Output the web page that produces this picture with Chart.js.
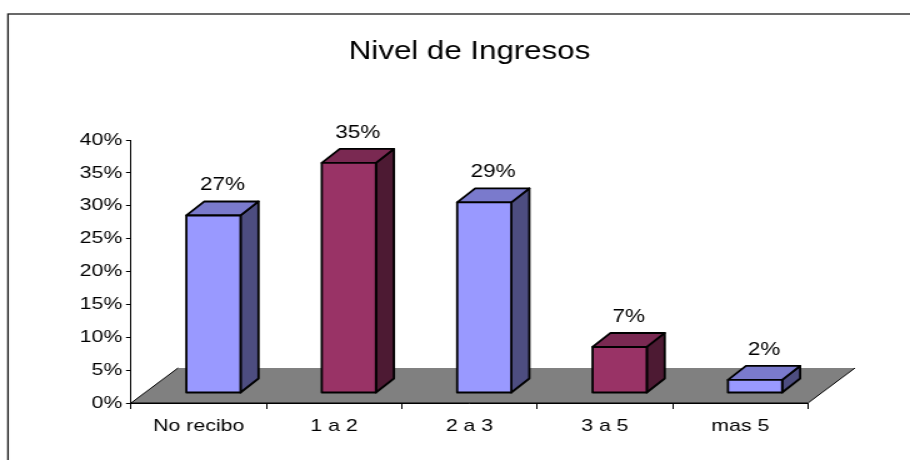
<!DOCTYPE html>
<html>
<head>
<meta charset="utf-8">
<title>Nivel de Ingresos</title>
<script src="https://cdn.jsdelivr.net/npm/chart.js@4.4.1/dist/chart.umd.min.js"></script>
<style>
  html, body { margin: 0; padding: 0; background: #ffffff; overflow: hidden; }
  #chart { display: block; width: 910px; height: 460px; }
</style>
</head>
<body>
<canvas id="chart" width="728" height="460" style="width:910px;height:460px"></canvas>
<script>
// Income level survey: share of respondents per bracket
const categories = ['No recibo', '1 a 2', '2 a 3', '3 a 5', 'mas 5'];
const shares = [27, 35, 29, 7, 2];
const yTicks = [0, 5, 10, 15, 20, 25, 30, 35, 40];
const titleText = 'Nivel de Ingresos';

// front-face colours, alternating per bracket
const faceColors = ['#9999FF', '#993366', '#9999FF', '#993366', '#9999FF'];

const FONT = '"Liberation Sans", Arial, Helvetica, sans-serif';

// oblique depth of the floor and of each column
const FLOOR_DX = 37.6, FLOOR_DY = -35;
const BAR_SHIFT_X = 11.8, BAR_SHIFT_Y = -10;
const BAR_DX = 14.4, BAR_DY = -14;

function shade(hex, k) {
  const n = parseInt(hex.slice(1), 16);
  const r = Math.round(((n >> 16) & 255) * k);
  const g = Math.round(((n >> 8) & 255) * k);
  const b = Math.round((n & 255) * k);
  return `rgb(${r},${g},${b})`;
}

const columns3d = {
  id: 'columns3d',
  beforeDraw(chart) {
    // outer frame
    const ctx = chart.ctx;
    ctx.save();
    ctx.strokeStyle = '#1a1a1a';
    ctx.lineWidth = 1.3;
    ctx.strokeRect(6.4, 14, chart.width + 20, chart.height + 20);
    ctx.restore();
  },
  beforeDatasetsDraw(chart) {
    // grey floor in perspective
    const ctx = chart.ctx;
    const area = chart.chartArea;
    const y0 = chart.scales.y.getPixelForValue(0);
    const x0 = area.left, x1 = area.right;
    ctx.save();
    ctx.beginPath();
    ctx.moveTo(x0, y0);
    ctx.lineTo(x1, y0);
    ctx.lineTo(x1 + FLOOR_DX, y0 + FLOOR_DY);
    ctx.lineTo(x0 + FLOOR_DX, y0 + FLOOR_DY);
    ctx.closePath();
    ctx.fillStyle = '#808080';
    ctx.fill();
    ctx.strokeStyle = '#000';
    ctx.lineWidth = 1;
    ctx.beginPath();
    ctx.moveTo(x0, y0); ctx.lineTo(x0 + FLOOR_DX, y0 + FLOOR_DY);
    ctx.moveTo(x1, y0); ctx.lineTo(x1 + FLOOR_DX, y0 + FLOOR_DY);
    ctx.stroke();
    ctx.lineWidth = 1.2;
    ctx.beginPath();
    ctx.moveTo(x0, y0); ctx.lineTo(x1, y0);
    ctx.stroke();
    ctx.restore();
  },
  beforeDatasetDraw() {
    return false; // columns are drawn as boxes below
  },
  afterDatasetsDraw(chart) {
    const ctx = chart.ctx;
    chart.data.datasets.forEach((ds, di) => {
      const meta = chart.getDatasetMeta(di);
      meta.data.forEach((el, i) => {
        const p = el.getProps(['x', 'y', 'base', 'width'], true);
        const left = p.x - p.width / 2 + BAR_SHIFT_X;
        const right = left + p.width;
        const top = p.y + BAR_SHIFT_Y;
        const bottom = p.base + BAR_SHIFT_Y;
        const face = ds.backgroundColor[i];
        ctx.save();
        ctx.lineJoin = 'round';
        ctx.strokeStyle = '#000';
        ctx.lineWidth = 1.8;
        // side
        ctx.beginPath();
        ctx.moveTo(right, top);
        ctx.lineTo(right + BAR_DX, top + BAR_DY);
        ctx.lineTo(right + BAR_DX, bottom + BAR_DY);
        ctx.lineTo(right, bottom);
        ctx.closePath();
        ctx.fillStyle = shade(face, 0.5);
        ctx.fill(); ctx.stroke();
        // top
        ctx.beginPath();
        ctx.moveTo(left, top);
        ctx.lineTo(right, top);
        ctx.lineTo(right + BAR_DX, top + BAR_DY);
        ctx.lineTo(left + BAR_DX, top + BAR_DY);
        ctx.closePath();
        ctx.fillStyle = shade(face, 0.8);
        ctx.fill(); ctx.stroke();
        // front
        ctx.beginPath();
        ctx.rect(left, top, right - left, bottom - top);
        ctx.fillStyle = face;
        ctx.fill(); ctx.stroke();
        // value label
        ctx.fillStyle = '#000';
        ctx.font = `18px ${FONT}`;
        ctx.textAlign = 'center';
        ctx.textBaseline = 'alphabetic';
        ctx.fillText(ds.data[i] + '%', (left + right) / 2 + BAR_DX / 2, top + BAR_DY - 11);
        ctx.restore();
      });
    });
  }
};

new Chart(document.getElementById('chart'), {
  type: 'bar',
  data: {
    labels: categories,
    datasets: [{
      data: shares,
      backgroundColor: faceColors,
      borderWidth: 0,
      categoryPercentage: 1,
      barPercentage: 0.4
    }]
  },
  options: {
    responsive: false,
    animation: false,
    devicePixelRatio: 1,
    layout: { padding: { left: 44.8, right: 81.6, top: 20, bottom: 17 } },
    plugins: {
      legend: { display: false },
      tooltip: { enabled: false },
      title: {
        display: true,
        fullSize: false,
        text: titleText,
        color: '#000',
        font: { family: FONT, size: 25, weight: 'normal', lineHeight: 1.2 },
        padding: { top: 17, bottom: 73 }
      }
    },
    scales: {
      x: {
        grid: { display: true, drawOnChartArea: false, drawTicks: true, tickLength: 6, color: '#000', offset: true },
        border: { display: true, color: '#000', width: 1 },
        ticks: { color: '#000', font: { family: FONT, size: 17 }, padding: 7, maxRotation: 0, autoSkip: false },
        afterFit(s) { s.height = 40; }
      },
      y: {
        min: 0,
        max: 40,
        grid: { display: true, drawOnChartArea: false, drawTicks: true, tickLength: 4, color: '#000' },
        border: { display: true, color: '#000', width: 1 },
        ticks: { color: '#000', font: { family: FONT, size: 17 }, padding: 3, callback: v => v + '%' },
        afterBuildTicks(s) { s.ticks = yTicks.map(v => ({ value: v })); },
        afterFit(s) { s.width = 60; }
      }
    }
  },
  plugins: [columns3d]
});
</script>
</body>
</html>
